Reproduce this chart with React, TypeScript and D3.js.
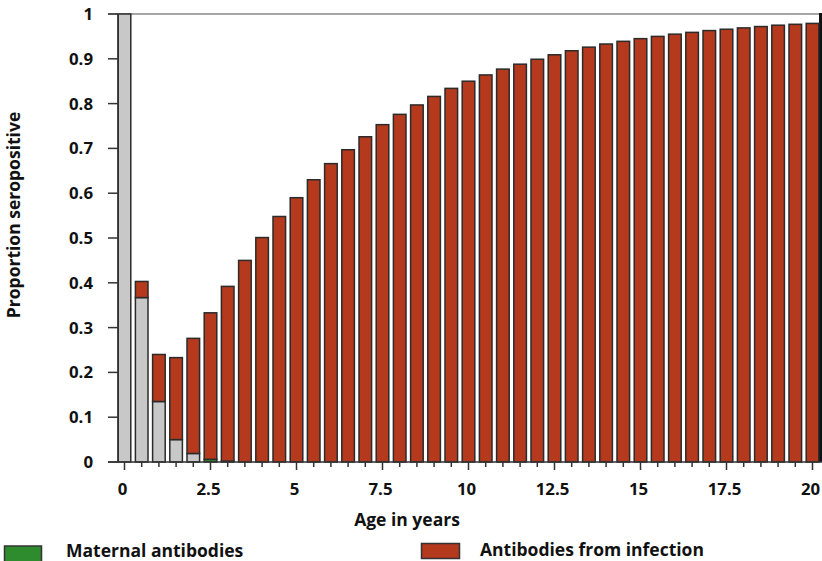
import React from 'react'
import * as d3 from 'd3'

// ages in years, one bar every half year
const ages = [
	0, 0.5, 1, 1.5, 2, 2.5, 3, 3.5, 4, 4.5, 5, 5.5, 6, 6.5, 7, 7.5, 8, 8.5, 9, 9.5,
	10, 10.5, 11, 11.5, 12, 12.5, 13, 13.5, 14, 14.5, 15, 15.5, 16, 16.5, 17, 17.5, 18, 18.5, 19, 19.5, 20,
]
// grey part (bottom of each bar)
const greyPart = [
	1.0, 0.367, 0.135, 0.05, 0.019, 0, 0, 0, 0, 0, 0, 0, 0, 0, 0, 0, 0, 0, 0, 0,
	0, 0, 0, 0, 0, 0, 0, 0, 0, 0, 0, 0, 0, 0, 0, 0, 0, 0, 0, 0, 0,
]
// maternal antibodies (green)
const maternal = [
	0, 0, 0, 0, 0, 0.006, 0.002, 0, 0, 0, 0, 0, 0, 0, 0, 0, 0, 0, 0, 0,
	0, 0, 0, 0, 0, 0, 0, 0, 0, 0, 0, 0, 0, 0, 0, 0, 0, 0, 0, 0, 0,
]
// antibodies from infection (red)
const infection = [
	0, 0.036, 0.105, 0.183, 0.257, 0.327, 0.390, 0.450, 0.501, 0.548, 0.590, 0.630, 0.666, 0.697, 0.726, 0.753,
	0.776, 0.797, 0.816, 0.834, 0.850, 0.864, 0.877, 0.888, 0.899, 0.909, 0.918, 0.926, 0.933, 0.939,
	0.945, 0.950, 0.955, 0.959, 0.963, 0.966, 0.969, 0.972, 0.975, 0.977, 0.979,
]
const yTicks = [0, 0.1, 0.2, 0.3, 0.4, 0.5, 0.6, 0.7, 0.8, 0.9, 1]
const xTicks = [0, 2.5, 5, 7.5, 10, 12.5, 15, 17.5, 20]

const keys = ['grey', 'maternal', 'infection']
const colors: any = { grey: '#c8c8c8', maternal: '#2e8b2e', infection: '#b5391d' }
const font = '"Open Sans", Lato, sans-serif'

export default function App() {
	const width = 822
	const height = 561

	const x = d3.scaleLinear().domain([0, 20]).range([124.5, 812.5])
	const y = d3.scaleLinear().domain([0, 1]).range([462, 14])
	const barW = 12.6

	const table = ages.map((a, i) => ({ age: a, grey: greyPart[i], maternal: maternal[i], infection: infection[i] }))
	const series = d3.stack().keys(keys)(table as any)

	return (
		<svg width={width} height={height} style={{ position: 'absolute', left: 0, top: 0 }}>
			{/* frame lines */}
			<line x1={108} x2={822} y1={14} y2={14} stroke="#888" strokeWidth={1.5} />
			<line x1={820.5} x2={820.5} y1={13} y2={462} stroke="#111" strokeWidth={3} />

			{/* bars */}
			{series.map((s: any) => (
				<g key={s.key}>
					{s.map((d: any, i: number) => {
						const h = y(d[0]) - y(d[1])
						if (h <= 0) return null
						return (
							<rect key={i} x={x(ages[i]) - barW / 2} y={y(d[1])} width={barW} height={h}
								fill={colors[s.key]} stroke="#2b2b2b" strokeWidth={1.5} />
						)
					})}
				</g>
			))}

			{/* y axis */}
			<line x1={118} x2={118} y1={14} y2={462} stroke="#333" strokeWidth={1.5} />
			{yTicks.map(t => (
				<g key={t}>
					<line x1={108} x2={118} y1={y(t)} y2={y(t)} stroke="#333" strokeWidth={1.5} />
					<text x={93} y={y(t)} dy="0.36em" textAnchor="end" fontFamily={font} fontWeight="bold" fontSize={16.8} fill="#111">
						{d3.format('')(t)}
					</text>
				</g>
			))}
			<text transform="translate(20,215) rotate(-90)" textAnchor="middle" fontFamily={font} fontWeight="bold" fontSize={17.5} fill="#111">
				Proportion seropositive
			</text>

			{/* x axis */}
			<line x1={108} x2={822} y1={462} y2={462} stroke="#333" strokeWidth={1.5} />
			{ages.map(a => (
				<line key={a} x1={x(a)} x2={x(a)} y1={462} y2={xTicks.includes(a) ? 470 : 467} stroke="#333" strokeWidth={1.5} />
			))}
			{xTicks.map(t => (
				<text key={t} x={x(t) - 2} y={495} textAnchor="middle" fontFamily={font} fontWeight="bold" fontSize={16.8} fill="#111">
					{t}
				</text>
			))}
			<text x={407} y={526} textAnchor="middle" fontFamily={font} fontWeight="bold" fontSize={17.5} fill="#111">
				Age in years
			</text>

			{/* legend */}
			<rect x={4.5} y={546} width={37} height={18} fill={colors.maternal} stroke="#333" strokeWidth={1.5} />
			<text x={66} y={557} fontFamily={font} fontWeight="bold" fontSize={17.5} fill="#111">Maternal antibodies</text>
			<rect x={421.5} y={543.5} width={38} height={15} fill={colors.infection} stroke="#333" strokeWidth={1.5} />
			<text x={480} y={556} fontFamily={font} fontWeight="bold" fontSize={17.5} fill="#111">Antibodies from infection</text>
		</svg>
	)
}
